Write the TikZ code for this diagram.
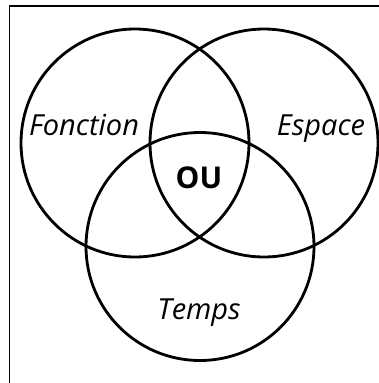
\documentclass[tikz,border=0pt]{standalone}
\usepackage{fontspec}
\setmainfont{Open Sans}
\begin{document}
\begin{tikzpicture}[x=1pt,y=-1pt,
  setc/.style={draw=black,line width=2.8pt,circle,minimum size=228pt,inner sep=0pt},
  lab/.style={font=\fontsize{29}{29}\selectfont\itshape,inner sep=0pt},
  mid/.style={font=\fontsize{30}{30}\selectfont\bfseries,inner sep=0pt}]
\useasboundingbox (0,0) rectangle (379,383);
\coordinate (fa) at (9.5,383);
\coordinate (fb) at (9.5,6);
\coordinate (fc) at (379,6);
\draw[line width=1.2pt] (fa) -- (fb) -- (fc);
\node[setc] (f) at (135,143) {};
\node[setc] (e) at (264,143) {};
\node[setc] (t) at (200,246.5) {};
\node[lab,anchor=base] (lf) at (84,135) {Fonction};
\node[lab,anchor=base] (le) at (321,135) {Espace};
\node[lab,anchor=base] (lt) at (199,319) {Temps};
\node[mid,anchor=base] (lo) at (199,188) {OU};
\end{tikzpicture}
\end{document}
